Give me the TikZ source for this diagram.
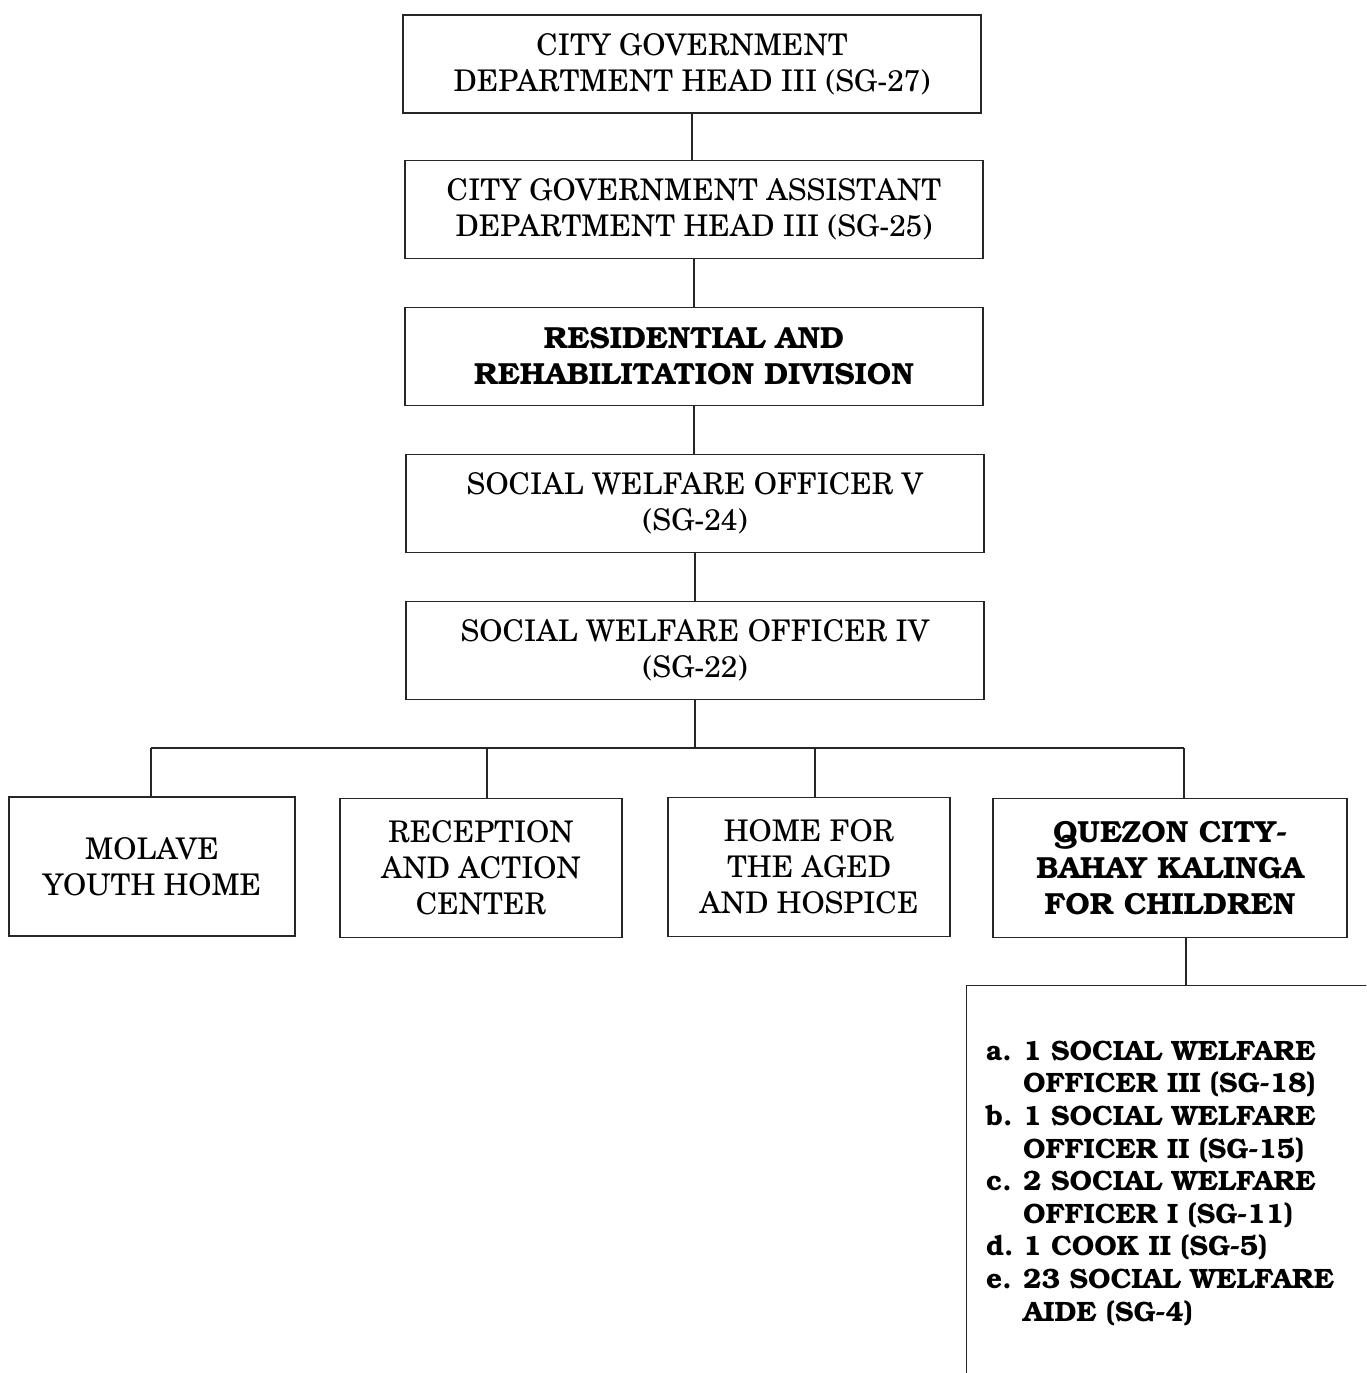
\documentclass[tikz,border=0pt]{standalone}
\usepackage[T1]{fontenc}
\renewcommand{\rmdefault}{pnc}
\newcommand{\bkbold}{\fontfamily{pbk}\bfseries}
\begin{document}
\begin{tikzpicture}[x=1pt,y=-1pt,
  box/.style={draw=black!85, line width=1.3pt, align=center, inner sep=0pt,
    font=\fontsize{29.8}{36}\selectfont},
  wbox/.style={box, minimum width=578pt, minimum height=98pt},
  sbox/.style={box, minimum height=139pt},
  conn/.style={draw=black!85, line width=1.3pt},
  lab/.style={font=\fontsize{28}{32.6}\selectfont\bkbold, align=left, inner sep=0pt, anchor=north west}]
\useasboundingbox (0,0) rectangle (1366,1373);
\begin{scope}
\clip (0,0) rectangle (1366,1373);
\node[wbox] (a) at (692,64) {CITY GOVERNMENT\\DEPARTMENT HEAD III (SG-27)};
\node[wbox] (b) at (694,209.5) {CITY GOVERNMENT ASSISTANT\\DEPARTMENT HEAD III (SG-25)};
\node[wbox, font=\fontsize{30.5}{36}\selectfont\bkbold] (c) at (694,356.5) {RESIDENTIAL AND\\REHABILITATION DIVISION};
\node[wbox] (d) at (695,503.5) {SOCIAL WELFARE OFFICER V\\(SG-24)};
\node[wbox] (e) at (695,650.5) {SOCIAL WELFARE OFFICER IV\\(SG-22)};

\node[sbox, minimum width=286pt] (m) at (152,866.5) {MOLAVE\\YOUTH HOME};
\node[sbox, minimum width=282pt] (r) at (481,868) {RECEPTION\\AND ACTION\\CENTER};
\node[sbox, minimum width=282pt] (h) at (809,867) {HOME FOR\\THE AGED\\AND HOSPICE};
\node[sbox, minimum width=354pt, font=\fontsize{30.5}{36}\selectfont\bkbold] (q) at (1170,868) {QUEZON CITY-\\BAHAY KALINGA\\FOR CHILDREN};

\node[draw=black!85, line width=1.3pt, anchor=north west, minimum width=600pt, minimum height=600pt, inner sep=0pt] (l) at (966,985) {};
\node[lab] (lt) at (986,1040) {%
\makebox[37pt][l]{a.}1 SOCIAL WELFARE\\
\hspace*{37pt}OFFICER III (SG-18)\\
\makebox[37pt][l]{b.}1 SOCIAL WELFARE\\
\hspace*{37pt}OFFICER II (SG-15)\\
\makebox[37pt][l]{c.}2 SOCIAL WELFARE\\
\hspace*{37pt}OFFICER I (SG-11)\\
\makebox[37pt][l]{d.}1 COOK II (SG-5)\\
\makebox[37pt][l]{e.}23 SOCIAL WELFARE\\
\hspace*{37pt}AIDE (SG-4)};

\draw[conn] (a.south) -- (a.south |- b.north);
\draw[conn] (b.south) -- (b.south |- c.north);
\draw[conn] (c.south) -- (c.south |- d.north);
\draw[conn] (d.south) -- (d.south |- e.north);

\coordinate (bus) at (694,748);
\coordinate (busL) at (151,748);
\coordinate (busR) at (1184,748);
\draw[conn] (e.south) -- (e.south |- bus);
\draw[conn] (busL) -- (busR);
\draw[conn] (busL) -- (busL |- m.north);
\draw[conn] ([xshift=6pt]r.north |- bus) -- ([xshift=6pt]r.north);
\draw[conn] ([xshift=6pt]h.north |- bus) -- ([xshift=6pt]h.north);
\draw[conn] (busR) -- (busR |- q.north);
\draw[conn] ([xshift=16pt]q.south) -- ([xshift=16pt]q.south |- l.north);
\end{scope}
\end{tikzpicture}
\end{document}
